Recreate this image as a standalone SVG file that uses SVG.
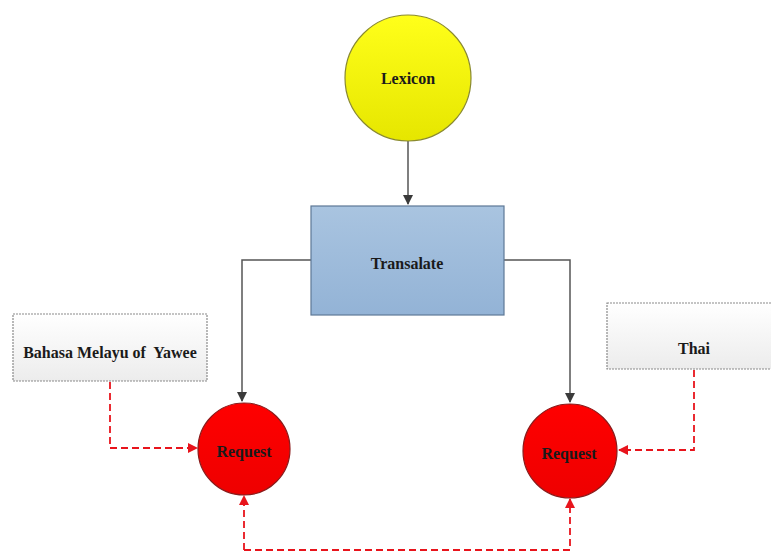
<svg xmlns="http://www.w3.org/2000/svg" width="771" height="556" viewBox="0 0 771 556">
<defs>
<linearGradient id="gY" x1="0" y1="0" x2="0" y2="1"><stop offset="0" stop-color="#ffff1a"/><stop offset="1" stop-color="#e6e600"/></linearGradient>
<linearGradient id="gB" x1="0" y1="0" x2="0" y2="1"><stop offset="0" stop-color="#a9c4e0"/><stop offset="1" stop-color="#93b3d6"/></linearGradient>
<linearGradient id="gR" x1="0" y1="0" x2="0" y2="1"><stop offset="0" stop-color="#ff0000"/><stop offset="1" stop-color="#ee0000"/></linearGradient>
<linearGradient id="gW" x1="0" y1="0" x2="0" y2="1"><stop offset="0" stop-color="#ffffff"/><stop offset="1" stop-color="#ececec"/></linearGradient>
<marker id="aG" markerWidth="10" markerHeight="10" refX="9" refY="5" orient="auto" markerUnits="userSpaceOnUse"><path d="M0,0 L10,5 L0,10 Z" fill="#3a3a3a"/></marker>
<marker id="aR" markerWidth="10" markerHeight="10" refX="9" refY="5" orient="auto" markerUnits="userSpaceOnUse"><path d="M0,0 L10,5 L0,10 Z" fill="#e8141c"/></marker>
</defs>
<style>
.t{font-family:"Liberation Serif","Times New Roman",serif;font-weight:bold;font-size:16px;fill:#1a1a1a;text-anchor:middle;dominant-baseline:central;white-space:pre}
.g{fill:none;stroke:#555;stroke-width:1.5}
.r{fill:none;stroke:#e8141c;stroke-width:1.8;stroke-dasharray:7,4}
.box{fill:url(#gW);stroke:#8a8a8a;stroke-width:1.2;stroke-dasharray:2,1}
</style>
<rect width="771" height="556" fill="#ffffff"/>
<g id="connectors">
<path class="g" d="M408,141 L408,204" marker-end="url(#aG)"/>
<path class="g" d="M311,260 L242,260 L242,401" marker-end="url(#aG)"/>
<path class="g" d="M504,260 L570,260 L570,402" marker-end="url(#aG)"/>
<path class="r" d="M110,382 L110,448 L197,448" marker-end="url(#aR)"/>
<path class="r" d="M694,370 L694,450 L619,450" marker-end="url(#aR)"/>
<path class="r" d="M244,550 L244,496" marker-end="url(#aR)"/>
<path class="r" d="M244,550 L570,550 L570,499" marker-end="url(#aR)"/>
</g>
<g id="lexicon">
<circle cx="408" cy="78" r="63" fill="url(#gY)" stroke="#8a8a30" stroke-width="1.2"/>
<text class="t" x="408" y="78">Lexicon</text>
</g>
<g id="translate">
<rect x="311" y="206" width="193" height="109" fill="url(#gB)" stroke="#5e7896" stroke-width="1.2"/>
<text class="t" x="407" y="263">Transalate</text>
</g>
<g id="bahasa">
<rect class="box" x="13" y="314" width="194" height="67"/>
<text class="t" x="110" y="352" xml:space="preserve">Bahasa Melayu of  Yawee</text>
</g>
<g id="thai">
<rect class="box" x="607" y="303" width="170" height="66"/>
<text class="t" x="694" y="348">Thai</text>
</g>
<g id="request1">
<circle cx="244" cy="449" r="46" fill="url(#gR)" stroke="#8a1a1a" stroke-width="1.2"/>
<text class="t" x="244" y="451">Request</text>
</g>
<g id="request2">
<circle cx="570" cy="451" r="47" fill="url(#gR)" stroke="#8a1a1a" stroke-width="1.2"/>
<text class="t" x="569" y="453">Request</text>
</g>
</svg>
